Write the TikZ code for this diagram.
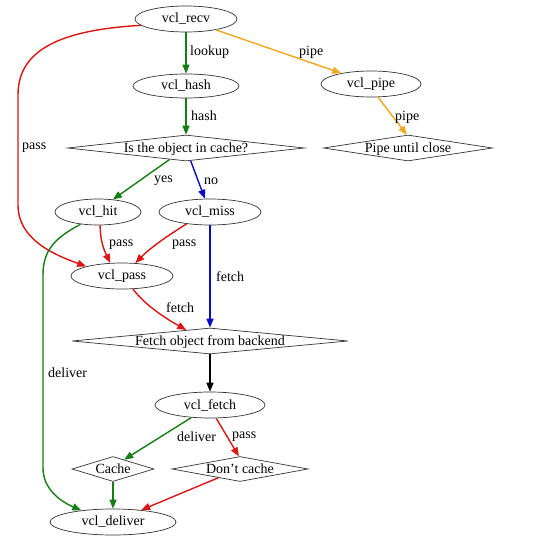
\documentclass[tikz,border=0pt]{standalone}
\usepackage{fontspec}
\setmainfont{Liberation Serif}
\usetikzlibrary{shapes.geometric,arrows.meta}
\definecolor{cred}{RGB}{220,20,20}
\definecolor{cgreen}{RGB}{20,125,20}
\definecolor{cblue}{RGB}{10,10,200}
\definecolor{corange}{RGB}{238,168,30}
\begin{document}
\begin{tikzpicture}[x=1pt,y=-1pt,
  font=\fontsize{14}{16}\selectfont,
  ell/.style={ellipse,draw=black!80,line width=0.7pt,inner sep=0pt},
  dia/.style={diamond,draw=black!80,line width=0.7pt,inner sep=0pt,text height=10pt,text depth=1pt},
  edge/.style={line width=1.4pt,-{Triangle[length=9pt,width=7pt]}},
  lbl/.style={anchor=west,inner sep=0pt}]
\useasboundingbox (0,0) rectangle (533,541);
% nodes
\node[ell,minimum width=102pt,minimum height=26pt] (recv) at (186,19) {vcl\_recv};
\node[ell,minimum width=106pt,minimum height=24pt] (hash) at (186,86) {vcl\_hash};
\node[ell,minimum width=100pt,minimum height=26pt] (pipe) at (371,84) {vcl\_pipe};
\node[dia,shape aspect=9.1,minimum width=237pt,minimum height=26pt] (q) at (186,148) {Is the object in cache?};
\node[dia,shape aspect=6.5,minimum width=169pt,minimum height=26pt] (puc) at (408,148) {Pipe until close};
\node[ell,minimum width=86pt,minimum height=26pt] (hit) at (98,212) {vcl\_hit};
\node[ell,minimum width=102pt,minimum height=26pt] (miss) at (210,212) {vcl\_miss};
\node[ell,minimum width=102pt,minimum height=26pt] (pass) at (122,276) {vcl\_pass};
\node[dia,shape aspect=10.6,minimum width=276pt,minimum height=26pt] (fobj) at (210,341) {Fetch object from backend};
\node[ell,minimum width=110pt,minimum height=26pt] (vfetch) at (210,405) {vcl\_fetch};
\node[dia,shape aspect=3.3,minimum width=82pt,minimum height=25pt] (cache) at (113,469) {Cache};
\node[dia,shape aspect=5.4,minimum width=136pt,minimum height=25pt] (dc) at (240,469) {Don't cache};
\node[ell,minimum width=126pt,minimum height=26pt] (deliver) at (113,522) {vcl\_deliver};
% edges
\draw[edge,cgreen] (recv) -- (hash);
\draw[edge,cgreen] (hash) -- (q);
\draw[edge,corange] (recv.-20) -- (pipe.160);
\draw[edge,corange] (pipe.-62) -- (puc.95);
\draw[edge,cred] (recv.188) .. controls (60,30) and (18,50) .. (18,95) -- (18,205) .. controls (18,240) and (55,255) .. (pass.165);
\draw[edge,cgreen] (q.215) -- (hit.40);
\draw[edge,cblue] (q.-70) -- (miss.111);
\draw[edge,cred] (hit.-81) .. controls (100,240) and (104,250) .. (pass.132);
\draw[edge,cred] (miss.207) .. controls (170,234) and (150,248) .. (pass.44);
\draw[edge,cgreen] (hit.215) .. controls (55,238) and (43,250) .. (43,275) -- (43,468) .. controls (43,490) and (62,502) .. (deliver.160);
\draw[edge,cblue] (miss) -- (fobj);
\draw[edge,cred] (pass.-50) .. controls (145,305) and (165,318) .. (fobj.155);
\draw[edge,black] (fobj) -- (vfetch);
\draw[edge,cgreen] (vfetch.214) -- (cache.40);
\draw[edge,cred] (vfetch.-65) -- (dc.95);
\draw[edge,cgreen] (cache) -- (deliver);
\draw[edge,cred] (dc.202) -- (deliver.23);
% labels
\node[lbl] (l1) at (190,52) {lookup};
\node[lbl] (l2) at (191,116) {hash};
\node[lbl] (l3) at (299,52) {pipe};
\node[lbl] (l4) at (395,117) {pipe};
\node[lbl] (l5) at (22,148) {pass};
\node[lbl] (l6) at (154,181) {yes};
\node[lbl] (l7) at (204,181) {no};
\node[lbl] (l8) at (109,245) {pass};
\node[lbl] (l9) at (172,245) {pass};
\node[lbl] (l10) at (216,277) {fetch};
\node[lbl] (l11) at (166,308) {fetch};
\node[lbl] (l12) at (48,373) {deliver};
\node[lbl] (l13) at (177,437) {deliver};
\node[lbl] (l14) at (232,437) {pass};
\end{tikzpicture}
\end{document}
